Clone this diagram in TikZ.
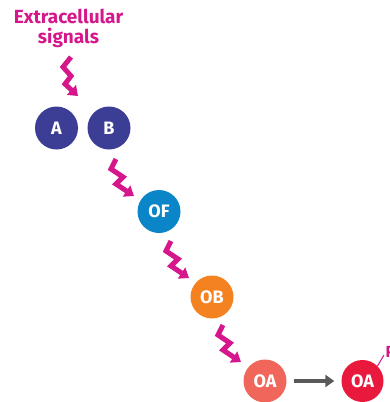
\documentclass[tikz,border=0pt]{standalone}
\usepackage{fontspec}
\setmainfont{Fira Sans}
\usetikzlibrary{arrows.meta}
\definecolor{magentasig}{RGB}{213,23,139}
\definecolor{navyc}{RGB}{60,62,150}
\definecolor{bluec}{RGB}{10,134,200}
\definecolor{orangec}{RGB}{245,130,32}
\definecolor{salmonc}{RGB}{240,102,90}
\definecolor{redc}{RGB}{232,25,60}
\definecolor{grayc}{RGB}{88,89,91}
\begin{document}
\begin{tikzpicture}[x=1pt,y=-1pt,
  cell/.style={circle,minimum size=43pt,inner sep=0pt,text=white,font=\bfseries\fontsize{18}{18}\selectfont},
  zig/.style={draw=magentasig,line width=5pt,line join=miter,-{Triangle[width=13pt,length=9pt]}},
  conv/.style={draw=grayc,line width=4.5pt,-{Triangle[width=12pt,length=9pt]}}]
\useasboundingbox (0,0) rectangle (389,402);
\clip (0,0) rectangle (389,402);
\node[text=magentasig,align=center,font=\bfseries\fontsize{19}{20}\selectfont] (sig) at (68.5,28) {Extracellular\\signals};
\node[cell,fill=navyc] (A) at (56.5,128) {A};
\node[cell,fill=navyc] (B) at (109,128) {B};
\node[cell,fill=bluec] (OF) at (159,211.5) {OF};
\node[cell,fill=orangec] (OB) at (212,297) {OB};
\node[cell,fill=salmonc] (OA1) at (265,381) {OA};
\node[cell,fill=redc,minimum size=42pt] (OA2) at (362.5,381) {OA};
% zigzag signal arrows
\coordinate (z1a) at (71,57); \coordinate (z1t) at (78,96);
\draw[zig] (z1a) -- (63,67) -- (71,76) -- (65,84) -- (z1t);
\coordinate (z2a) at (116,159); \coordinate (z2t) at (134,196);
\draw[zig] (z2a) -- (111,169) -- (123,177) -- (116,184) -- (z2t);
\coordinate (z3a) at (171,241); \coordinate (z3t) at (189,278);
\draw[zig] (z3a) -- (166,251) -- (178,259) -- (171,266) -- (z3t);
\coordinate (z4a) at (223,325); \coordinate (z4t) at (241,362);
\draw[zig] (z4a) -- (218,335) -- (230,343) -- (223,350) -- (z4t);
% conversion arrow
\draw[conv] (OA1.east) ++(7,0) coordinate (c1) (c1) -- ([xshift=-7pt]OA2.west);
% phosphate label (cropped at the edge, as in the reference)
\coordinate (pl) at (384,355);
\draw[magentasig,line width=1pt] (OA2.45) -- (pl);
\node[anchor=west,inner sep=0pt,text=magentasig,font=\bfseries\fontsize{16}{16}\selectfont] (P) at (385.5,352) {P};
\end{tikzpicture}
\end{document}
